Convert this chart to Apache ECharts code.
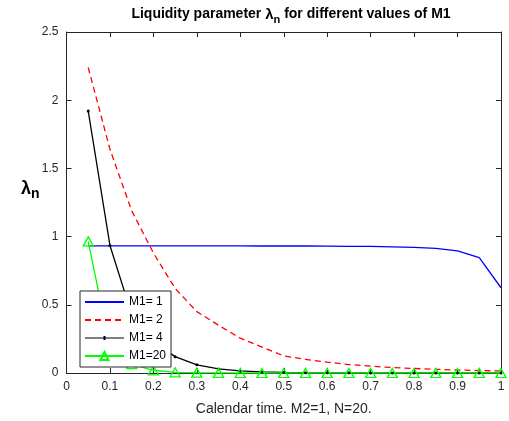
<!DOCTYPE html>
<html>
<head>
<meta charset="utf-8">
<script src="https://cdn.jsdelivr.net/npm/echarts@6/dist/echarts.min.js"></script>
<style>
  html, body { margin: 0; padding: 0; background: #fff; }
  #chart { width: 509px; height: 421px; }
</style>
</head>
<body>
<div id="chart"></div>
<script>
// Calendar time grid
const times = [0.05, 0.10, 0.15, 0.20, 0.25, 0.30, 0.35, 0.40, 0.45, 0.50,
               0.55, 0.60, 0.65, 0.70, 0.75, 0.80, 0.85, 0.90, 0.95, 1.00];

// Liquidity parameter lambda_n for each M1
const lambdaM1_1 = [0.932, 0.932, 0.932, 0.932, 0.932, 0.932, 0.932, 0.932, 0.931, 0.931,
                    0.931, 0.930, 0.929, 0.928, 0.925, 0.921, 0.913, 0.896, 0.845, 0.625];
const lambdaM1_2 = [2.24, 1.64, 1.19, 0.88, 0.62, 0.45, 0.35, 0.255, 0.19, 0.125,
                    0.10, 0.08, 0.062, 0.05, 0.04, 0.033, 0.027, 0.022, 0.018, 0.015];
const lambdaM1_4 = [1.92, 0.935, 0.43, 0.23, 0.12, 0.06, 0.03, 0.015, 0.008, 0.004,
                    0.002, 0.001, 0.001, 0, 0, 0, 0, 0, 0, 0];
const lambdaM1_20 = [0.965, 0.19, 0.065, 0.02, 0.005, 0.002, 0.001, 0, 0, 0,
                     0, 0, 0, 0, 0, 0, 0, 0, 0, 0];

const seriesNames = ['M1= 1', 'M1= 2', 'M1= 4', 'M1=20'];

const axisColor = '#262626';
const fontFamily = 'Liberation Sans, Arial, Helvetica, sans-serif';

const pairs = arr => times.map((t, i) => [t, arr[i]]);
const fmt = v => String(Math.round(v * 10) / 10);

const chart = echarts.init(document.getElementById('chart'), null, { renderer: 'canvas' });

const baseX = {
  type: 'value', min: 0, max: 1, interval: 0.1,
  axisLine: { show: true, onZero: false, lineStyle: { color: axisColor, width: 1 } },
  axisTick: { show: true, inside: true, length: 5, lineStyle: { color: axisColor } },
  splitLine: { show: false }
};
const baseY = {
  type: 'value', min: 0, max: 2.5, interval: 0.5,
  axisLine: { show: true, onZero: false, lineStyle: { color: axisColor, width: 1 } },
  axisTick: { show: true, inside: true, length: 5, lineStyle: { color: axisColor } },
  splitLine: { show: false }
};

// legend glyph for the dotted-marker line: a thin line with a small dot in the middle
const dotLineIcon = 'path://M0,1.5L18.5,1.5L18.5,0L20.5,0L20.5,1.5L39,1.5L39,2.5L20.5,2.5L20.5,4L18.5,4L18.5,2.5L0,2.5Z';

chart.setOption({
  animation: false,
  backgroundColor: '#fff',
  textStyle: { fontFamily: fontFamily },
  title: {
    text: '{b|Liquidity parameter }{l|λ}{s|n}{b| for different values of M1}',
    left: 286, textAlign: 'center', top: -1,
    textStyle: {
      rich: {
        b: { fontSize: 14, fontWeight: 'bold', color: '#000', fontFamily: fontFamily },
        l: { fontSize: 15, fontWeight: 'bold', color: '#000', fontFamily: fontFamily },
        s: { fontSize: 11, fontWeight: 'bold', color: '#000', fontFamily: fontFamily, padding: [10, 0, 0, 0] }
      }
    }
  },
  grid: { left: 66.5, right: 8, top: 32, bottom: 46, containLabel: false },
  xAxis: [
    Object.assign({}, baseX, {
      position: 'bottom',
      axisLabel: { color: axisColor, fontSize: 12, margin: 8, formatter: fmt },
      name: 'Calendar time. M2=1, N=20.',
      nameLocation: 'middle', nameGap: 29,
      nameTextStyle: { color: axisColor, fontSize: 14 }
    }),
    Object.assign({}, baseX, { position: 'top', axisLabel: { show: false } })
  ],
  yAxis: [
    Object.assign({}, baseY, {
      position: 'left',
      axisLabel: { color: axisColor, fontSize: 12, margin: 8, formatter: fmt }
    }),
    Object.assign({}, baseY, { position: 'right', axisLabel: { show: false } })
  ],
  graphic: [{
    type: 'text', left: 21, top: 180, z: 10,
    style: {
      text: '{l|λ}{s|n}',
      rich: {
        l: { fontSize: 18, fontWeight: 'bold', fill: '#000', fontFamily: fontFamily },
        s: { fontSize: 14, fontWeight: 'bold', fill: '#000', fontFamily: fontFamily, padding: [11, 0, 0, 0] }
      }
    }
  }],
  legend: {
    orient: 'vertical', left: 80, top: 291, z: 20,
    padding: [5, 5, 5, 4], itemWidth: 39, itemHeight: 10, itemGap: 6,
    backgroundColor: '#fff', borderColor: axisColor, borderWidth: 1,
    textStyle: { fontSize: 12, color: '#000' },
    data: [
      { name: seriesNames[0], itemStyle: { opacity: 0 } },
      { name: seriesNames[1], itemStyle: { opacity: 0 } },
      { name: seriesNames[2], icon: dotLineIcon },
      { name: seriesNames[3] }
    ]
  },
  series: [
    {
      name: seriesNames[0], type: 'line', data: pairs(lambdaM1_1),
      symbol: 'none', color: '#0000ff',
      lineStyle: { color: '#0000ff', width: 1.3 }
    },
    {
      name: seriesNames[1], type: 'line', data: pairs(lambdaM1_2),
      symbol: 'none', color: '#ff0000',
      lineStyle: { color: '#ff0000', width: 1.3, type: [6, 4] }
    },
    {
      name: seriesNames[2], type: 'line', data: pairs(lambdaM1_4),
      symbol: 'circle', symbolSize: 3, color: '#000',
      itemStyle: { color: '#000' },
      lineStyle: { color: '#000', width: 1.3 }
    },
    {
      name: seriesNames[3], type: 'line', data: pairs(lambdaM1_20),
      symbol: 'triangle', symbolSize: [10, 9], color: '#00ff00',
      itemStyle: { color: 'rgba(255,255,255,0)', borderColor: '#00ff00', borderWidth: 1.3 },
      lineStyle: { color: '#00ff00', width: 1.3 }
    }
  ]
});
</script>
</body>
</html>
